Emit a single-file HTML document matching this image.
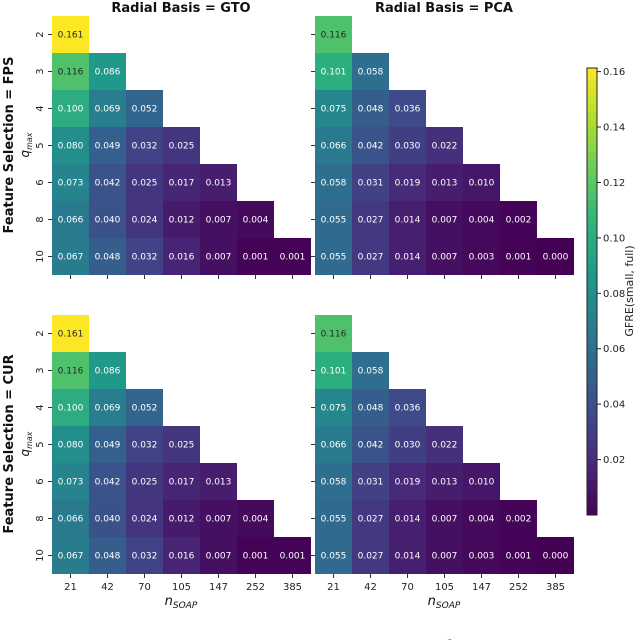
<!DOCTYPE html>
<html><head><meta charset="utf-8"><style>
body{margin:0;background:#fff;}
svg{display:block;font-family:"DejaVu Sans","Liberation Sans",sans-serif;}
</style></head><body>
<svg id="chart" width="640" height="640" viewBox="0 0 640 640" xmlns="http://www.w3.org/2000/svg">
<defs><linearGradient id="vir" x1="0" y1="1" x2="0" y2="0"></linearGradient></defs>
</svg>
<script>
const nSoap = ["21","42","70","105","147","252","385"];
const qMax = ["2","3","4","5","6","8","10"];
const gtoValues = [
 [0.161],
 [0.116,0.086],
 [0.100,0.069,0.052],
 [0.080,0.049,0.032,0.025],
 [0.073,0.042,0.025,0.017,0.013],
 [0.066,0.040,0.024,0.012,0.007,0.004],
 [0.067,0.048,0.032,0.016,0.007,0.001,0.001]
];
const pcaValues = [
 [0.116],
 [0.101,0.058],
 [0.075,0.048,0.036],
 [0.066,0.042,0.030,0.022],
 [0.058,0.031,0.019,0.013,0.010],
 [0.055,0.027,0.014,0.007,0.004,0.002],
 [0.055,0.027,0.014,0.007,0.003,0.001,0.000]
];
const cbTicks = [0.02,0.04,0.06,0.08,0.10,0.12,0.14,0.16];
const vmin = 0, vmax = 0.1613;

const NS="http://www.w3.org/2000/svg";
const svg=document.getElementById('chart');
function mk(t,a,p){const e=document.createElementNS(NS,t);for(const k in a)e.setAttribute(k,a[k]);(p||svg).appendChild(e);return e;}
const vir=[[68,1,84],[72,40,120],[62,74,137],[49,104,142],[38,130,142],[31,158,137],[53,183,121],[109,205,89],[180,222,44],[253,231,37]];
function color(v){let t=(v-vmin)/(vmax-vmin);t=Math.max(0,Math.min(1,t));const f=t*9,i=Math.min(8,Math.floor(f)),r=f-i;const a=vir[i],b=vir[i+1];return `rgb(${a.map((c,k)=>Math.round(c+(b[k]-c)*r)).join(',')})`;}
const grad=svg.querySelector('#vir');
vir.forEach((c,i)=>mk('stop',{offset:(i/9),'stop-color':`rgb(${c.join(',')})`},grad));

const cell=37;
const panels=[
 {x:52,y:16,vals:gtoValues,title:'Radial Basis = GTO',row:'fps',col:'gto'},
 {x:315,y:16,vals:pcaValues,title:'Radial Basis = PCA',row:'fps',col:'pca'},
 {x:52,y:315,vals:gtoValues,row:'cur',col:'gto'},
 {x:315,y:315,vals:pcaValues,row:'cur',col:'pca'}
];
panels.forEach(p=>{
 const g=mk('g',{});
 
 
 p.vals.forEach((row,i)=>row.forEach((v,j)=>{
  const x=p.x+j*cell,y=p.y+i*cell;
  const r=mk('rect',{x:x,y:y,width:cell,height:cell,fill:color(v)},g);
  
  
  const t=mk('text',{x:x+cell/2,y:y+cell/2+3,'text-anchor':'middle','font-size':'9',fill:v>0.105?'#262626':'#fff'},g);
  t.textContent=v.toFixed(3);
  
  
 }));
 qMax.forEach((q,i)=>{
  const y=p.y+i*cell+cell/2;
  mk('line',{x1:p.x-4,y1:y,x2:p.x,y2:y,stroke:'#333','stroke-width':1},g);
  if(p.col==='gto'){
   const t=mk('text',{x:0,y:0,transform:`translate(${p.x-9},${y}) rotate(-90)`,'text-anchor':'middle','font-size':'10',fill:'#222'},g);
   t.textContent=q;
   
   
  }
 });
 nSoap.forEach((n,j)=>{
  const x=p.x+j*cell+cell/2,yb=p.y+7*cell;
  mk('line',{x1:x,y1:yb,x2:x,y2:yb+4,stroke:'#333','stroke-width':1},g);
  if(p.row==='cur'){
   const t=mk('text',{x:x,y:yb+16,'text-anchor':'middle','font-size':'10',fill:'#222'},g);
   t.textContent=n;
   
   
  }
 });
 if(p.title){
  const t=mk('text',{x:p.x+129,y:12,'text-anchor':'middle','font-size':'13','font-weight':'bold',fill:'#111'},g);
  t.textContent=p.title;
  
  
 }
 if(p.row==='cur'){
  const t=mk('text',{x:p.x+129,y:605,'text-anchor':'middle','font-size':'13','font-style':'italic',fill:'#111'},g);
  t.innerHTML='n<tspan font-size="9" dy="3">SOAP</tspan>';
  
  
 }
 if(p.col==='gto'){
  const cy=p.y+129;
  const t=mk('text',{x:0,y:0,transform:`translate(29,${cy}) rotate(-90)`,'text-anchor':'middle','font-size':'12','font-style':'italic',fill:'#111'},g);
  t.innerHTML='q<tspan font-size="8" dy="3">max</tspan>';
  
  
  const r=mk('text',{x:0,y:0,transform:`translate(13,${cy}) rotate(-90)`,'text-anchor':'middle','font-size':'13','font-weight':'bold',fill:'#111'},g);
  r.textContent=p.row==='fps'?'Feature Selection = FPS':'Feature Selection = CUR';
  
  
 }
});
const cb=mk('g',{});


const cbTop=68,cbBot=515,cbX=587,cbW=10;
mk('rect',{x:cbX,y:cbTop,width:cbW,height:cbBot-cbTop,fill:'url(#vir)',stroke:'#222','stroke-width':1},cb);
cbTicks.forEach(v=>{
 const y=cbBot-(v-vmin)/(vmax-vmin)*(cbBot-cbTop);
 mk('line',{x1:cbX+cbW,y1:y,x2:cbX+cbW+4,y2:y,stroke:'#222'},cb);
 const t=mk('text',{x:cbX+cbW+6,y:y+3.5,'font-size':'10',fill:'#222'},cb);
 t.textContent=v.toFixed(2);
 
 
});
const cl=mk('text',{x:0,y:0,transform:`translate(633,291) rotate(-90)`,'text-anchor':'middle','font-size':'11',fill:'#222'},cb);
cl.textContent='GFRE(small, full)';


const cap=mk('text',{x:22,y:658,'font-size':'26','font-family':'"Liberation Serif",serif',fill:'#111'});
cap.textContent='Figure 2: Feature reconstruction errors of';


</script>
</body></html>
